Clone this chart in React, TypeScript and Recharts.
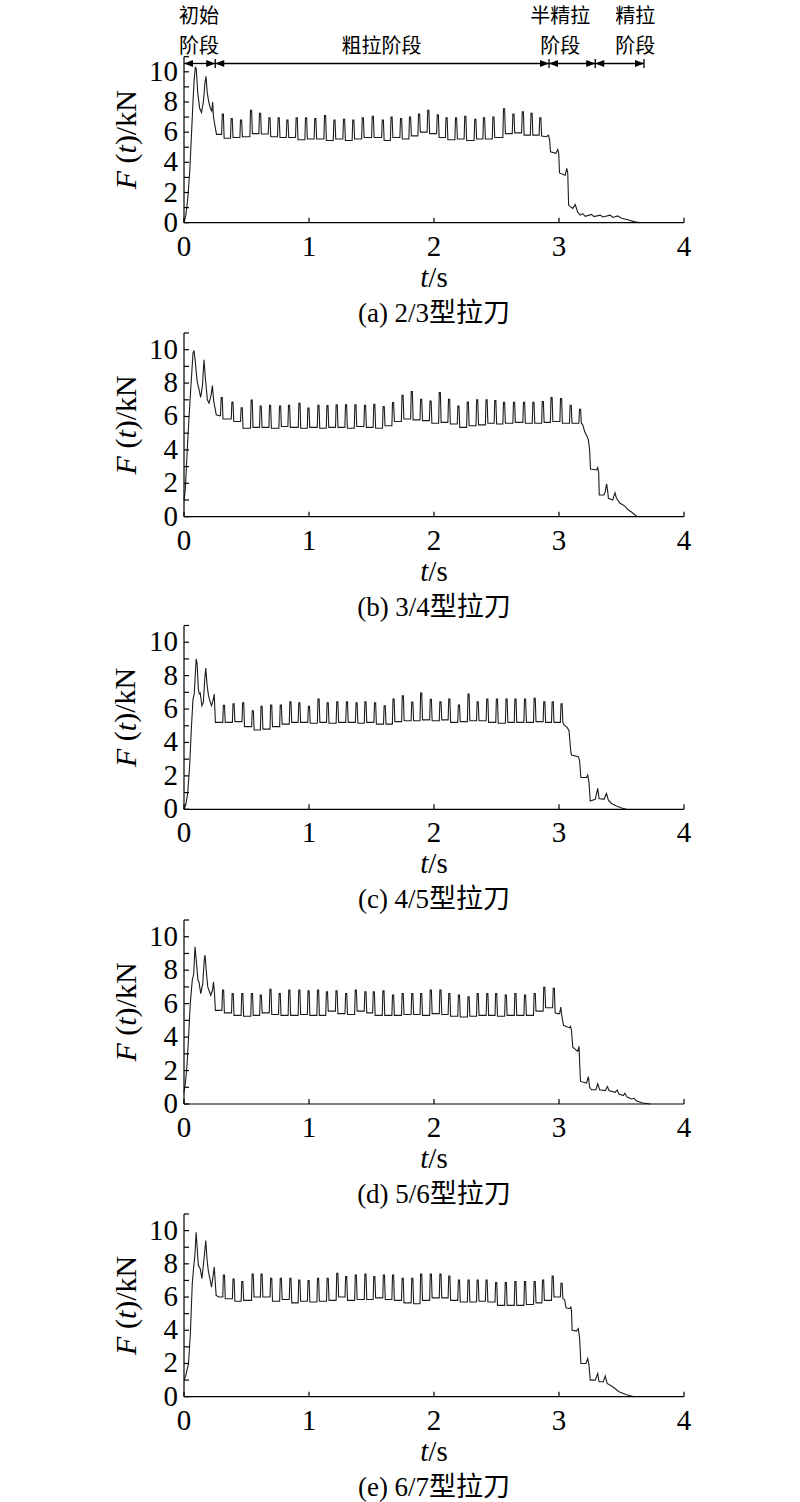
import React from "react";
import { LineChart, Line, XAxis, YAxis, ReferenceLine, ReferenceDot } from "recharts";

// ---- (a) 2/3型拉刀 ----
const headTA = [0, 0.015, 0.03, 0.045, 0.058, 0.07, 0.08, 0.09, 0.098, 0.11, 0.125, 0.14, 0.155, 0.168, 0.176, 0.186, 0.198, 0.21, 0.222, 0.229, 0.236, 0.248, 0.26, 0.285];
const headFA = [0, 0.5, 1.6, 3.3, 5.5, 7.7, 9.3, 10.3, 10.2, 8.6, 7.6, 7.3, 8.0, 9.3, 9.7, 8.6, 8.0, 7.6, 7.4, 8.0, 7.0, 6.4, 5.85, 5.85];
const toothTA = [0.31, 0.381, 0.456, 0.536, 0.608, 0.683, 0.757, 0.827, 0.901, 0.976, 1.05, 1.128, 1.203, 1.28, 1.354, 1.43, 1.51, 1.59, 1.66, 1.736, 1.808, 1.88, 1.954, 2.03, 2.1, 2.176, 2.25, 2.33, 2.4, 2.475, 2.56, 2.635, 2.71, 2.78, 2.85];
const toothPeakA = [7.2, 6.9, 6.8, 7.45, 7.25, 6.95, 6.95, 6.8, 6.95, 6.95, 6.9, 7.1, 6.8, 6.85, 6.8, 6.95, 7.05, 6.8, 7.0, 6.9, 7.0, 7.2, 7.45, 7.15, 6.95, 6.95, 7.05, 6.85, 6.95, 7.0, 7.55, 7.2, 7.35, 7.25, 6.95];
const toothBaseA = [5.6, 5.65, 5.7, 5.9, 5.88, 5.7, 5.65, 5.65, 5.5, 5.55, 5.55, 5.45, 5.55, 5.45, 5.55, 5.65, 5.65, 5.45, 5.65, 5.55, 5.75, 6.0, 5.9, 5.65, 5.5, 5.55, 5.45, 5.55, 5.55, 5.65, 5.9, 5.95, 5.8, 5.8, 5.75];
const tailTA = [2.9, 2.915, 2.925, 2.932, 2.975, 2.99, 2.998, 3.004, 3.05, 3.062, 3.07, 3.077, 3.11, 3.13, 3.15, 3.17, 3.19, 3.21, 3.26, 3.28, 3.33, 3.35, 3.41, 3.43, 3.47, 3.5, 3.55, 3.6, 3.65];
const tailFA = [5.7, 5.8, 5.5, 4.7, 4.6, 4.85, 4.6, 3.3, 3.15, 3.6, 3.3, 1.15, 0.95, 1.2, 0.7, 0.5, 0.6, 0.42, 0.55, 0.4, 0.5, 0.38, 0.5, 0.35, 0.45, 0.3, 0.2, 0.07, 0];

// ---- (b) 3/4型拉刀 ----
const headTB = [0, 0.01, 0.03, 0.05, 0.062, 0.072, 0.08, 0.09, 0.105, 0.118, 0.133, 0.147, 0.16, 0.172, 0.187, 0.2, 0.217, 0.227, 0.238, 0.248, 0.258, 0.283];
const headFB = [1.0, 1.6, 4.6, 7.2, 8.6, 9.8, 9.95, 9.3, 8.1, 7.7, 7.15, 7.8, 9.4, 8.2, 7.0, 6.8, 7.3, 7.85, 6.9, 6.5, 6.1, 6.05];
const toothTB = [0.301, 0.387, 0.461, 0.541, 0.613, 0.688, 0.768, 0.84, 0.923, 0.995, 1.075, 1.147, 1.221, 1.296, 1.371, 1.448, 1.522, 1.597, 1.672, 1.748, 1.822, 1.897, 1.972, 2.046, 2.12, 2.195, 2.27, 2.345, 2.42, 2.49, 2.56, 2.64, 2.72, 2.795, 2.87, 2.94, 3.016, 3.093, 3.168];
const toothPeakB = [7.13, 6.87, 6.52, 6.99, 6.63, 6.67, 6.63, 6.67, 6.79, 6.5, 6.67, 6.65, 6.7, 6.7, 6.7, 6.67, 6.73, 6.6, 6.83, 7.27, 7.5, 7.03, 6.93, 7.43, 7.03, 6.63, 6.87, 7.0, 7.0, 6.95, 6.85, 6.85, 6.85, 6.85, 6.9, 7.13, 7.07, 6.67, 6.43];
const toothBaseB = [5.85, 5.7, 5.3, 5.35, 5.35, 5.3, 5.4, 5.35, 5.3, 5.35, 5.3, 5.35, 5.35, 5.3, 5.4, 5.35, 5.3, 5.45, 5.7, 5.85, 5.8, 5.75, 5.6, 5.65, 5.55, 5.35, 5.45, 5.5, 5.6, 5.55, 5.6, 5.65, 5.6, 5.6, 5.65, 5.7, 5.6, 5.6, 5.6];
const tailTB = [3.19, 3.205, 3.222, 3.235, 3.245, 3.252, 3.3, 3.31, 3.318, 3.322, 3.36, 3.37, 3.381, 3.39, 3.395, 3.43, 3.448, 3.46, 3.488, 3.51, 3.53, 3.555, 3.58, 3.608, 3.627];
const tailFB = [5.5, 5.1, 4.85, 4.6, 4.0, 2.85, 2.8, 2.95, 2.6, 1.3, 1.3, 1.5, 1.97, 1.5, 1.1, 1.0, 1.44, 1.1, 0.8, 0.72, 0.6, 0.4, 0.28, 0.1, 0];

// ---- (c) 4/5型拉刀 ----
const headTC = [0, 0.015, 0.03, 0.045, 0.06, 0.072, 0.082, 0.09, 0.097, 0.105, 0.115, 0.122, 0.13, 0.143, 0.155, 0.166, 0.174, 0.185, 0.196, 0.21, 0.22, 0.235, 0.242, 0.251, 0.27];
const headFC = [0, 0.3, 1.0, 2.6, 5.0, 6.6, 6.9, 8.0, 9.0, 8.7, 7.2, 6.9, 6.95, 6.2, 6.4, 7.8, 8.45, 7.4, 6.8, 6.4, 6.2, 6.6, 6.9, 5.2, 5.2];
const toothTC = [0.319, 0.396, 0.473, 0.55, 0.62, 0.697, 0.774, 0.851, 0.922, 0.999, 1.076, 1.149, 1.226, 1.303, 1.38, 1.451, 1.528, 1.605, 1.676, 1.75, 1.826, 1.897, 1.974, 2.051, 2.122, 2.199, 2.276, 2.349, 2.426, 2.503, 2.58, 2.651, 2.728, 2.805, 2.882, 2.949, 3.02];
const toothPeakC = [6.22, 6.32, 6.38, 5.9, 6.16, 6.24, 6.24, 6.44, 6.38, 6.16, 6.6, 6.38, 6.44, 6.44, 6.38, 6.44, 6.38, 6.2, 6.6, 6.8, 6.42, 6.96, 6.58, 6.44, 6.6, 6.24, 6.9, 6.44, 6.6, 6.6, 6.6, 6.6, 6.6, 6.65, 6.44, 6.44, 6.32];
const toothBaseC = [5.2, 5.25, 4.95, 4.75, 4.8, 4.95, 5.1, 5.2, 5.2, 5.15, 5.2, 5.15, 5.2, 5.2, 5.15, 5.2, 5.1, 5.1, 5.25, 5.3, 5.3, 5.35, 5.3, 5.35, 5.2, 5.25, 5.3, 5.3, 5.2, 5.15, 5.2, 5.2, 5.2, 5.25, 5.2, 5.2, 5.2];
const tailTC = [3.04, 3.065, 3.08, 3.095, 3.1, 3.155, 3.165, 3.175, 3.22, 3.23, 3.24, 3.25, 3.29, 3.31, 3.32, 3.36, 3.38, 3.395, 3.42, 3.46, 3.5, 3.54];
const tailFC = [5.05, 4.9, 4.7, 3.4, 3.25, 3.15, 2.9, 1.9, 1.9, 2.05, 1.6, 0.5, 0.6, 1.25, 0.65, 0.6, 0.95, 0.55, 0.35, 0.2, 0.08, 0];

// ---- (d) 5/6型拉刀 ----
const headTD = [0, 0.012, 0.025, 0.038, 0.05, 0.066, 0.078, 0.088, 0.098, 0.112, 0.12, 0.134, 0.15, 0.162, 0.168, 0.18, 0.19, 0.214, 0.228, 0.236, 0.244, 0.251, 0.27];
const headFD = [0.7, 1.3, 2.4, 4.2, 6.0, 7.4, 7.8, 9.4, 8.6, 7.4, 7.3, 6.6, 7.2, 8.6, 8.9, 7.8, 7.0, 6.5, 6.8, 7.3, 6.6, 5.6, 5.6];
const toothTD = [0.312, 0.389, 0.466, 0.543, 0.614, 0.691, 0.765, 0.842, 0.922, 0.996, 1.072, 1.143, 1.22, 1.297, 1.374, 1.451, 1.518, 1.595, 1.672, 1.749, 1.826, 1.897, 1.974, 2.051, 2.122, 2.199, 2.276, 2.349, 2.426, 2.497, 2.574, 2.651, 2.728, 2.805, 2.882, 2.958];
const toothPeakD = [6.81, 6.61, 6.61, 6.61, 6.51, 6.85, 6.61, 6.81, 6.81, 6.77, 6.81, 6.71, 6.77, 6.61, 6.81, 6.71, 6.71, 6.77, 6.51, 6.61, 6.61, 6.61, 6.81, 6.81, 6.61, 6.51, 6.41, 6.61, 6.61, 6.61, 6.51, 6.61, 6.51, 6.61, 6.97, 6.91];
const toothBaseD = [5.45, 5.3, 5.25, 5.3, 5.45, 5.35, 5.3, 5.3, 5.35, 5.3, 5.3, 5.55, 5.4, 5.35, 5.55, 5.45, 5.3, 5.3, 5.3, 5.35, 5.35, 5.3, 5.4, 5.35, 5.25, 5.2, 5.25, 5.3, 5.3, 5.25, 5.3, 5.3, 5.3, 5.55, 5.75, 5.45];
const tailTD = [2.99, 3.005, 3.014, 3.022, 3.036, 3.085, 3.092, 3.1, 3.11, 3.15, 3.16, 3.165, 3.172, 3.22, 3.235, 3.245, 3.26, 3.295, 3.31, 3.325, 3.37, 3.388, 3.4, 3.45, 3.465, 3.48, 3.515, 3.527, 3.545, 3.58, 3.6, 3.62, 3.67, 3.73];
const tailFD = [5.4, 5.4, 5.8, 5.3, 4.7, 4.55, 4.65, 4.4, 3.4, 3.15, 3.45, 2.5, 1.35, 1.25, 1.64, 1.0, 0.85, 0.85, 1.2, 0.85, 0.8, 1.04, 0.8, 0.7, 0.84, 0.6, 0.5, 0.64, 0.42, 0.3, 0.34, 0.18, 0.06, 0];

// ---- (e) 6/7型拉刀 ----
const headTE = [0, 0.015, 0.036, 0.051, 0.066, 0.076, 0.087, 0.097, 0.105, 0.115, 0.13, 0.143, 0.16, 0.174, 0.185, 0.196, 0.21, 0.22, 0.235, 0.242, 0.25, 0.257, 0.28];
const headFE = [1.0, 1.3, 2.0, 3.8, 6.8, 7.7, 8.5, 9.9, 9.0, 7.9, 7.7, 7.1, 8.3, 9.4, 8.2, 7.5, 7.0, 6.6, 7.4, 7.8, 6.9, 6.1, 6.0];
const toothTE = [0.319, 0.396, 0.466, 0.549, 0.62, 0.697, 0.774, 0.851, 0.922, 0.996, 1.072, 1.149, 1.226, 1.297, 1.374, 1.451, 1.522, 1.599, 1.672, 1.749, 1.826, 1.897, 1.974, 2.051, 2.122, 2.199, 2.276, 2.349, 2.42, 2.497, 2.574, 2.651, 2.728, 2.805, 2.872, 2.949, 3.02];
const toothPeakE = [7.33, 7.09, 6.93, 7.39, 7.39, 7.13, 7.13, 7.13, 7.03, 6.99, 7.13, 7.13, 7.43, 7.23, 7.33, 7.39, 7.23, 7.33, 7.33, 7.13, 7.13, 7.39, 7.39, 7.39, 7.27, 7.03, 7.03, 7.03, 7.03, 6.87, 6.87, 6.93, 6.93, 6.93, 7.03, 7.27, 6.83];
const toothBaseE = [5.9, 5.75, 5.8, 6.0, 6.0, 5.75, 5.85, 5.65, 5.75, 5.7, 5.75, 5.8, 6.0, 5.8, 5.85, 5.85, 5.95, 5.85, 5.8, 5.65, 5.6, 5.8, 5.95, 5.95, 5.8, 5.7, 5.7, 5.75, 5.7, 5.5, 5.5, 5.5, 5.55, 5.65, 5.8, 6.0, 5.9];
const tailTE = [3.045, 3.056, 3.085, 3.095, 3.1, 3.105, 3.14, 3.155, 3.165, 3.175, 3.215, 3.23, 3.24, 3.25, 3.29, 3.31, 3.32, 3.355, 3.37, 3.385, 3.43, 3.48, 3.54, 3.6];
const tailFE = [5.85, 5.35, 5.3, 5.4, 5.2, 4.0, 3.95, 4.1, 3.5, 2.0, 2.0, 2.3, 1.9, 1.0, 1.0, 1.4, 0.9, 0.9, 1.25, 0.8, 0.6, 0.3, 0.12, 0];

const captions = ["(a) 2/3型拉刀", "(b) 3/4型拉刀", "(c) 4/5型拉刀", "(d) 5/6型拉刀", "(e) 6/7型拉刀"];
const xTicks = [0, 1, 2, 3, 4];
const yTicks = [0, 1, 2, 3, 4, 5, 6, 7, 8, 9, 10, 11];
const yLabelTicks = [0, 2, 4, 6, 8, 10];

// stage bar on panel (a)
const stageBounds = [0, 0.25, 2.92, 3.29, 3.68];
const stageNames = [["初始", "阶段"], ["粗拉阶段"], ["半精拉", "阶段"], ["精拉", "阶段"]];
const stageLabelT = [0.12, 1.58, 3.01, 3.61];
const stageY = 10.55;

const SERIF = "'Liberation Serif', 'Times New Roman', serif";
const MIXED = "'Liberation Serif', 'Noto Sans CJK SC', serif";
const CJK = "'Noto Sans CJK SC', sans-serif";

// each tooth: rise from previous base, short flat top, drop to its base
function buildSeries(headT, headF, toothT, toothPeak, toothBase, tailT, tailF) {
  const pts = headT.map((t, i) => ({ t, f: headF[i] }));
  let prev = headF[headF.length - 1];
  toothT.forEach((t, i) => {
    pts.push({ t: t - 0.009, f: prev });
    pts.push({ t: t - 0.004, f: toothPeak[i] });
    pts.push({ t: t + 0.005, f: toothPeak[i] });
    pts.push({ t: t + 0.011, f: toothBase[i] });
    prev = toothBase[i];
  });
  tailT.forEach((t, i) => pts.push({ t, f: tailF[i] }));
  return pts;
}

const series = [
  buildSeries(headTA, headFA, toothTA, toothPeakA, toothBaseA, tailTA, tailFA),
  buildSeries(headTB, headFB, toothTB, toothPeakB, toothBaseB, tailTB, tailFB),
  buildSeries(headTC, headFC, toothTC, toothPeakC, toothBaseC, tailTC, tailFC),
  buildSeries(headTD, headFD, toothTD, toothPeakD, toothBaseD, tailTD, tailFD),
  buildSeries(headTE, headFE, toothTE, toothPeakE, toothBaseE, tailTE, tailFE),
];

// plot area top / bottom in page pixels
const layout = [
  { chartTop: 0, plotTop: 56.7, plotBottom: 222.7 },
  { chartTop: 313, plotTop: 333, plotBottom: 516.7 },
  { chartTop: 605, plotTop: 625.5, plotBottom: 809.3 },
  { chartTop: 900, plotTop: 920, plotBottom: 1104 },
  { chartTop: 1194, plotTop: 1214, plotBottom: 1396.7 },
];

function XTick(props: any) {
  const { x, y, payload } = props;
  return (
    <g>
      <line x1={x} y1={y} x2={x} y2={y - 5} stroke="#000" strokeWidth={1.2} />
      <text x={x} y={y + 23} textAnchor="middle" dominantBaseline="central" fontFamily={SERIF} fontSize={29} fill="#000">
        {payload.value}
      </text>
    </g>
  );
}

function YTick(props: any) {
  const { x, y, payload } = props;
  return (
    <g>
      <line x1={x} y1={y} x2={x + 5} y2={y} stroke="#000" strokeWidth={1.2} />
      {yLabelTicks.includes(payload.value) && (
        <text x={x - 6} y={y - 1} textAnchor="end" dominantBaseline="central" fontFamily={SERIF} fontSize={29} fill="#000">
          {payload.value}
        </text>
      )}
    </g>
  );
}

function XTitle({ viewBox, caption }: any) {
  const cx = viewBox.x + viewBox.width / 2;
  const y = viewBox.y;
  return (
    <g>
      <text x={cx} y={y + 54} textAnchor="middle" dominantBaseline="central" fontFamily={SERIF} fontSize={29} fill="#000">
        <tspan fontStyle="italic">t</tspan>/s
      </text>
      <text x={cx} y={y + 90} textAnchor="middle" dominantBaseline="central" fontFamily={MIXED} fontSize={27} fill="#000">
        {caption}
      </text>
    </g>
  );
}

function YTitle({ viewBox }: any) {
  const cx = 125;
  const cy = viewBox.y + viewBox.height / 2;
  return (
    <text x={cx} y={cy} transform={`rotate(-90 ${cx} ${cy})`} textAnchor="middle" dominantBaseline="central" fontFamily={SERIF} fontSize={30} fill="#000">
      <tspan fontStyle="italic">F</tspan>
      {" ("}
      <tspan fontStyle="italic">t</tspan>
      {")/kN"}
    </text>
  );
}

function StageArrow(props: any) {
  const { x1, y1, x2 } = props;
  const y = y1;
  return (
    <g>
      <line x1={x1} y1={y} x2={x2} y2={y} stroke="#000" strokeWidth={1.3} />
      <polygon points={`${x1},${y} ${x1 + 9},${y - 3.5} ${x1 + 9},${y + 3.5}`} fill="#000" />
      <polygon points={`${x2},${y} ${x2 - 9},${y - 3.5} ${x2 - 9},${y + 3.5}`} fill="#000" />
      <line x1={x2} y1={y - 4.5} x2={x2} y2={y + 4.5} stroke="#000" strokeWidth={1.3} />
    </g>
  );
}

function StageLabel({ cx, cy, lines }: any) {
  const rows = lines.length === 2 ? [cy - 48.5, cy - 19] : [cy - 19];
  return (
    <g>
      {lines.map((s: string, i: number) => (
        <text key={i} x={cx} y={rows[i]} textAnchor="middle" dominantBaseline="central" fontFamily={CJK} fontSize={20} fill="#000">
          {s}
        </text>
      ))}
    </g>
  );
}

function Panel({ index }: { index: number }) {
  const { chartTop, plotTop, plotBottom } = layout[index];
  const below = 110;
  const axisH = 30;
  const height = plotBottom - chartTop + below;
  return (
    <div style={{ position: "absolute", left: 0, top: chartTop }}>
      <LineChart
        width={800}
        height={height}
        data={series[index]}
        margin={{ top: plotTop - chartTop, right: 116, bottom: below - axisH, left: 124 }}
      >
        <XAxis
          dataKey="t"
          type="number"
          domain={[0, 4]}
          ticks={xTicks}
          interval={0}
          height={axisH}
          tickLine={false}
          tickSize={0}
          tickMargin={0}
          tick={<XTick />}
          axisLine={{ stroke: "#000", strokeWidth: 1.2 }}
          label={{ content: (p: any) => <XTitle viewBox={p.viewBox} caption={captions[index]} /> }}
        />
        <YAxis
          type="number"
          domain={[0, 11]}
          ticks={yTicks}
          interval={0}
          width={60}
          tickLine={false}
          tickSize={0}
          tickMargin={0}
          tick={<YTick />}
          axisLine={{ stroke: "#000", strokeWidth: 1.2 }}
          label={{ content: (p: any) => <YTitle viewBox={p.viewBox} /> }}
        />
        <Line dataKey="f" type="linear" stroke="#1c1c1c" strokeWidth={1.1} dot={false} isAnimationActive={false} />
        {index === 0 &&
          stageNames.map((_, i) => (
            <ReferenceLine
              key={"seg" + i}
              segment={[
                { x: stageBounds[i], y: stageY },
                { x: stageBounds[i + 1], y: stageY },
              ]}
              shape={(p: any) => <StageArrow {...p} />}
            />
          ))}
        {index === 0 &&
          stageNames.map((lines, i) => (
            <ReferenceDot
              key={"lab" + i}
              x={stageLabelT[i]}
              y={stageY}
              r={0}
              shape={(p: any) => <StageLabel cx={p.cx} cy={p.cy} lines={lines} />}
            />
          ))}
      </LineChart>
    </div>
  );
}

export default function App() {
  return (
    <div style={{ position: "absolute", left: 0, top: 0, width: 800, height: 1502, background: "#fff" }}>
      {layout.map((_, i) => (
        <Panel key={i} index={i} />
      ))}
    </div>
  );
}
